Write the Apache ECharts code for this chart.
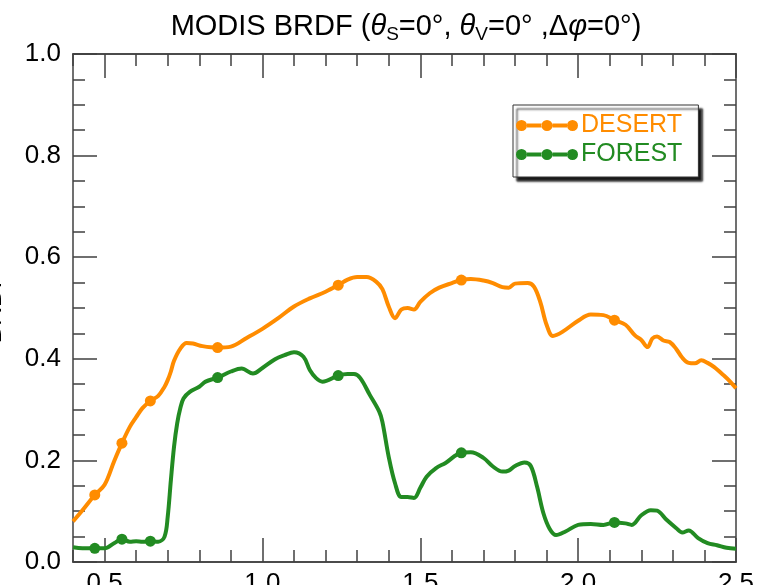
<!DOCTYPE html>
<html>
<head>
<meta charset="utf-8">
<script src="https://cdn.jsdelivr.net/npm/echarts@6/dist/echarts.min.js"></script>
<style>
  html, body { margin: 0; padding: 0; background: #fff; }
  #chart { width: 766px; height: 585px; }
</style>
</head>
<body>
<div id="chart"></div>
<script>
// Wavelength (µm) and reflectance samples for the two surface types
const desertWl = [0.40, 0.43, 0.469, 0.50, 0.53, 0.555, 0.58, 0.60, 0.62, 0.645, 0.67, 0.69, 0.70, 0.71, 0.72, 0.74, 0.76, 0.78, 0.81, 0.858,
  0.90, 0.95, 1.00, 1.05, 1.10, 1.15, 1.20, 1.24, 1.27, 1.30, 1.33, 1.36, 1.38, 1.40, 1.42, 1.44, 1.46, 1.48, 1.50,
  1.53, 1.56, 1.60, 1.63, 1.66, 1.70, 1.73, 1.76, 1.78, 1.80, 1.84, 1.86, 1.88, 1.90, 1.92, 1.95, 2.00, 2.04, 2.08,
  2.115, 2.15, 2.18, 2.20, 2.22, 2.235, 2.25, 2.27, 2.29, 2.31, 2.33, 2.35, 2.37, 2.39, 2.41, 2.43, 2.46, 2.48, 2.50];
const desertRefl = [0.080, 0.102, 0.132, 0.152, 0.198, 0.234, 0.266, 0.285, 0.303, 0.317, 0.327, 0.345, 0.358, 0.375, 0.396, 0.420, 0.431, 0.430, 0.425, 0.422,
  0.424, 0.441, 0.459, 0.480, 0.503, 0.519, 0.532, 0.545, 0.556, 0.561, 0.561, 0.552, 0.537, 0.503, 0.480, 0.497, 0.500, 0.497, 0.512,
  0.529, 0.540, 0.549, 0.555, 0.557, 0.554, 0.549, 0.541, 0.540, 0.548, 0.549, 0.542, 0.512, 0.467, 0.445, 0.453, 0.475, 0.487, 0.486,
  0.476, 0.467, 0.446, 0.437, 0.423, 0.440, 0.444, 0.436, 0.433, 0.420, 0.402, 0.392, 0.391, 0.397, 0.392, 0.384, 0.368, 0.356, 0.342];

const forestWl = [0.40, 0.43, 0.469, 0.50, 0.53, 0.555, 0.58, 0.60, 0.62, 0.645, 0.67, 0.69, 0.70, 0.71, 0.72, 0.73, 0.74, 0.75, 0.77, 0.80,
  0.82, 0.858, 0.90, 0.934, 0.97, 1.00, 1.04, 1.07, 1.10, 1.13, 1.15, 1.17, 1.19, 1.24, 1.27, 1.29, 1.31, 1.34, 1.37, 1.38,
  1.40, 1.42, 1.44, 1.46, 1.48, 1.50, 1.52, 1.55, 1.58, 1.63, 1.66, 1.70, 1.73, 1.76, 1.78, 1.80, 1.83, 1.85, 1.87, 1.89,
  1.91, 1.93, 1.96, 2.00, 2.04, 2.08, 2.115, 2.15, 2.17, 2.20, 2.23, 2.25, 2.28, 2.31, 2.33, 2.35, 2.38, 2.41, 2.44, 2.47, 2.50];
const forestRefl = [0.029, 0.027, 0.027, 0.027, 0.037, 0.045, 0.040, 0.041, 0.040, 0.041, 0.040, 0.050, 0.089, 0.161, 0.227, 0.273, 0.303, 0.322, 0.335, 0.345,
  0.355, 0.363, 0.375, 0.381, 0.371, 0.382, 0.399, 0.407, 0.413, 0.404, 0.378, 0.362, 0.355, 0.367, 0.370, 0.370, 0.362, 0.329, 0.296, 0.276,
  0.207, 0.155, 0.128, 0.128, 0.126, 0.146, 0.168, 0.185, 0.195, 0.215, 0.216, 0.205, 0.188, 0.178, 0.180, 0.189, 0.196, 0.189, 0.148, 0.096,
  0.065, 0.053, 0.060, 0.073, 0.075, 0.073, 0.078, 0.076, 0.073, 0.092, 0.102, 0.101, 0.083, 0.067, 0.058, 0.062, 0.047, 0.037, 0.033, 0.028, 0.026];

// MODIS land band centres, drawn as dots on each curve
const bandWl = [0.469, 0.555, 0.645, 0.858, 1.24, 1.63, 2.115];

const xTickValues = [0.5, 1.0, 1.5, 2.0, 2.5];
const xTickLabels = ['0.5', '1.0', '1.5', '2.0', '2.5'];

const seriesNames = ['DESERT', 'FOREST'];
const seriesColors = ['#ff8c00', '#228b22'];

const FONT = 'Liberation Sans';
const AXIS_COLOR = '#404040';

function buildPoints(wl, refl) {
  return wl.map((w, i) => {
    const isBand = bandWl.some(b => Math.abs(b - w) < 1e-6);
    return isBand
      ? { value: [w, refl[i]], symbol: 'circle', symbolSize: 11 }
      : { value: [w, refl[i]] };
  });
}

const minorX = [];
for (let k = 4; k <= 25; k++) minorX.push(+(k / 10).toFixed(1));

const xBase = { type: 'value', min: 0.4, max: 2.5, splitLine: { show: false },
  axisLine: { onZero: false, lineStyle: { color: AXIS_COLOR, width: 1.5 } } };

function xAxisDef(position, major) {
  return Object.assign({}, xBase, {
    position,
    axisTick: { show: true, inside: true, length: major ? 24 : 12, customValues: major ? xTickValues : minorX,
      lineStyle: { color: AXIS_COLOR, width: 1.5 } },
    axisLabel: (position === 'bottom' && major) ? {
      show: true, customValues: xTickValues, margin: 9,
      formatter: v => xTickLabels[xTickValues.findIndex(t => Math.abs(t - v) < 1e-6)] || '',
      fontFamily: FONT, fontSize: 26, color: '#000'
    } : { show: false }
  });
}

function yAxisDef(position) {
  return {
    type: 'value', position, min: 0, max: 1, interval: 0.2,
    splitLine: { show: false },
    axisLine: { show: true, onZero: false, lineStyle: { color: AXIS_COLOR, width: 1.5 } },
    axisTick: { show: true, inside: true, length: 24, lineStyle: { color: AXIS_COLOR, width: 1.5 } },
    minorTick: { show: true, splitNumber: 4, length: 12, lineStyle: { color: AXIS_COLOR, width: 1.5 } },
    axisLabel: position === 'left' ? {
      show: true, margin: 12, formatter: v => v.toFixed(1),
      fontFamily: FONT, fontSize: 26, color: '#000'
    } : { show: false },
    name: position === 'left' ? 'BRDF' : '',
    nameLocation: 'middle', nameGap: 66,
    nameTextStyle: { fontFamily: FONT, fontSize: 26, color: '#000' }
  };
}

// Legend glyph: three dots joined by line segments
const legendIcon = 'path://' +
  'M0,5.5a5.5,5.5 0 1,0 11,0a5.5,5.5 0 1,0 -11,0Z' +
  'M11,3.5L26,3.5L26,7.5L11,7.5Z' +
  'M25.5,5.5a5.5,5.5 0 1,0 11,0a5.5,5.5 0 1,0 -11,0Z' +
  'M36.5,3.5L51,3.5L51,7.5L36.5,7.5Z' +
  'M51,5.5a5.5,5.5 0 1,0 11,0a5.5,5.5 0 1,0 -11,0Z';

const chart = echarts.init(document.getElementById('chart'), null, { renderer: 'canvas' });

chart.setOption({
  animation: false,
  backgroundColor: '#fff',
  title: {
    left: 401, top: 4, padding: 5, textAlign: 'center',
    text: '{n|MODIS BRDF (}{i|θ}{s|S}{n|=0°, }{i|θ}{s|V}{n|=0° ,Δ}{i|φ}{n|=0°)}',
    textStyle: {
      fontWeight: 'normal',
      rich: {
        n: { fontFamily: FONT, fontSize: 29, fontWeight: 'normal', color: '#000' },
        i: { fontFamily: FONT, fontSize: 29, fontWeight: 'normal', fontStyle: 'italic', color: '#000' },
        s: { fontFamily: FONT, fontSize: 19, fontWeight: 'normal', color: '#000', padding: [16, 0, 0, 0] }
      }
    }
  },
  legend: {
    orient: 'vertical', left: 513, top: 105,
    padding: [8, 16, 10, 3],
    itemGap: 4, itemWidth: 62, itemHeight: 11,
    icon: legendIcon,
    backgroundColor: '#fff',
    borderColor: '#333', borderWidth: 1,
    shadowColor: 'rgba(0,0,0,0.9)', shadowBlur: 2, shadowOffsetX: 4, shadowOffsetY: 4,
    selectedMode: false,
    data: seriesNames.map((n, i) => ({ name: n, textStyle: { color: seriesColors[i] } })),
    textStyle: { fontFamily: FONT, fontSize: 25, lineHeight: 24, padding: [0, 0, 0, -2] }
  },
  grid: { left: 73, right: 30, top: 54, bottom: 23, containLabel: false, outerBoundsMode: 'none' },
  xAxis: [xAxisDef('bottom', false), xAxisDef('bottom', true), xAxisDef('top', false), xAxisDef('top', true)],
  yAxis: [yAxisDef('left'), yAxisDef('right')],
  series: [
    { name: seriesNames[0], data: buildPoints(desertWl, desertRefl) },
    { name: seriesNames[1], data: buildPoints(forestWl, forestRefl) }
  ].map((s, i) => Object.assign(s, {
    type: 'line', xAxisIndex: 0, yAxisIndex: 0,
    smooth: 0.35, symbol: 'none', showSymbol: true,
    color: seriesColors[i],
    itemStyle: { color: seriesColors[i] },
    lineStyle: { color: seriesColors[i], width: 4 },
    emphasis: { disabled: true },
    silent: true
  }))
});
</script>
</body>
</html>
